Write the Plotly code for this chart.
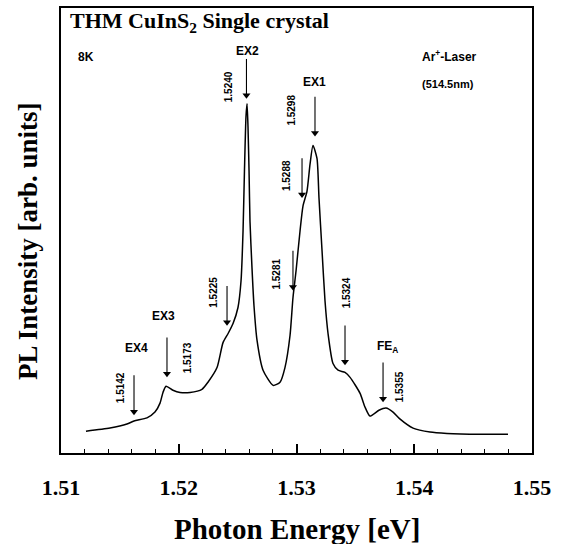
import plotly.graph_objects as go

# ---- data ----
energy_eV = [1.51212, 1.51416, 1.51560, 1.51620, 1.51730, 1.51798, 1.51841, 1.51866,
             1.51892, 1.51951, 1.52011, 1.52096, 1.52197, 1.52248, 1.52325, 1.52376,
             1.52418, 1.52461, 1.52503, 1.52529, 1.52546, 1.52558, 1.52571, 1.52580,
             1.52588, 1.52597, 1.52605, 1.52622, 1.52639, 1.52665, 1.52716, 1.52801,
             1.52860, 1.52902, 1.52945, 1.52970, 1.52996, 1.53030, 1.53055, 1.53089,
             1.53115, 1.53140, 1.53174, 1.53191, 1.53217, 1.53242, 1.53268, 1.53310,
             1.53353, 1.53412, 1.53455, 1.53540, 1.53582, 1.53624, 1.53700, 1.53760,
             1.53820, 1.53880, 1.53990, 1.54134, 1.54278, 1.54559, 1.54796]
pl_intensity = [4.9, 5.6, 6.5, 7.2, 7.9, 9.2, 11.2, 13.6,
                15.0, 14.1, 13.6, 13.6, 14.3, 15.9, 19.2, 24.8,
                26.8, 29.1, 32.7, 38.7, 49.9, 63.3, 75.6, 78.5,
                73.4, 63.3, 52.1, 41.6, 33.1, 25.3, 18.6, 15.2,
                15.9, 19.2, 26.4, 34.9, 40.9, 49.9, 55.5, 58.8,
                64.9, 69.1, 66.2, 57.3, 45.4, 34.2, 26.8, 20.1,
                18.6, 18.1, 17.0, 13.4, 10.3, 8.3, 9.6, 10.1,
                9.2, 7.6, 5.6, 4.7, 4.4, 4.2, 4.2]

# marked features: arrow position (eV), intensity at arrow tip, name, energy label
feature_eV = [1.51620, 1.51900, 1.52410, 1.52575, 1.52970, 1.53047, 1.53157, 1.53412, 1.53735]
feature_tip = [8.5, 17.0, 28.6, 79.6, 36.5, 57.3, 71.1, 19.7, 11.4]
feature_name = ["EX4", "EX3", "", "EX2", "", "", "EX1", "", "FE<sub>A</sub>"]
feature_label = ["1.5142", "1.5173", "1.5225", "1.5240", "1.5281", "1.5288", "1.5298", "1.5324", "1.5355"]

x_tick_vals = [1.51, 1.52, 1.53, 1.54, 1.55]
x_tick_text = ["1.51", "1.52", "1.53", "1.54", "1.55"]

# ---- layout helpers ----
Y_MAX = 100.0
PLOT_H_PX = 447.0
px = Y_MAX / PLOT_H_PX            # intensity units per pixel
ARROW_LEN = 40 * px
HEAD_OFF = 3.5 * px
name_shift = [(2, 67), (-3, 61), None, (1, 48), None, None, (0, 55), None, (4, 55)]
num_shift = [(-14, 27), (20, 20), (-13, 33), (-18, 12), (-16, 17), (-16, 22), (-23, 27), (1, 72), (16, 15)]

fig = go.Figure()
fig.add_trace(go.Scatter(x=energy_eV, y=pl_intensity, mode="lines",
                         line=dict(color="black", width=1.5, shape="spline", smoothing=0.6),
                         hoverinfo="skip", showlegend=False))

# arrow shafts
sx, sy = [], []
for e, t in zip(feature_eV, feature_tip):
    sx += [e, e, None]
    sy += [t + HEAD_OFF, t + ARROW_LEN, None]
fig.add_trace(go.Scatter(x=sx, y=sy, mode="lines", line=dict(color="black", width=1.1),
                         hoverinfo="skip", showlegend=False))
# arrow heads
fig.add_trace(go.Scatter(x=feature_eV, y=[t + HEAD_OFF for t in feature_tip], mode="markers",
                         marker=dict(symbol="triangle-down", size=7, color="black", line=dict(width=0)),
                         hoverinfo="skip", showlegend=False))

sans = "Liberation Sans"
serif = "Liberation Serif"
ann = []
for i, (e, t) in enumerate(zip(feature_eV, feature_tip)):
    if feature_name[i]:
        dx, dy = name_shift[i]
        ann.append(dict(x=e, y=t, xref="x", yref="y", text=feature_name[i], showarrow=False,
                        xshift=dx, yshift=dy,
                        font=dict(family=sans, size=12, color="black", weight="bold")))
    dx, dy = num_shift[i]
    ann.append(dict(x=e, y=t, xref="x", yref="y", text=feature_label[i], showarrow=False,
                    textangle=-90, xshift=dx, yshift=dy,
                    font=dict(family=sans, size=10, color="black", weight="bold")))

ann += [
    dict(x=0.015, y=0.968, xref="paper", yref="paper", xanchor="left", yanchor="middle",
         text="<b>THM CuInS<sub>2</sub> Single crystal</b>", showarrow=False,
         font=dict(family=serif, size=22, color="black")),
    dict(x=0.032, y=0.890, xref="paper", yref="paper", xanchor="left", yanchor="middle",
         text="8K", showarrow=False, font=dict(family=sans, size=12, color="black", weight="bold")),
    dict(x=0.762, y=0.893, xref="paper", yref="paper", xanchor="left", yanchor="middle",
         text="Ar<sup>+</sup>-Laser", showarrow=False,
         font=dict(family=sans, size=12, color="black", weight="bold")),
    dict(x=0.762, y=0.830, xref="paper", yref="paper", xanchor="left", yanchor="middle",
         text="(514.5nm)", showarrow=False,
         font=dict(family=sans, size=11, color="black", weight="bold")),
    dict(x=-0.070, y=0.4765, xref="paper", yref="paper", xanchor="center", yanchor="middle",
         text="<b>PL Intensity [arb. units]</b>", textangle=-90, showarrow=False,
         font=dict(family=serif, size=27, color="black")),
    dict(x=0.501, y=-0.170, xref="paper", yref="paper", xanchor="center", yanchor="middle",
         text="<b>Photon Energy [eV]</b>", showarrow=False,
         font=dict(family=serif, size=29, color="black")),
]

fig.update_layout(
    width=568, height=544,
    margin=dict(l=61, r=36, t=6, b=91, pad=0),
    paper_bgcolor="white", plot_bgcolor="white",
    annotations=ann,
    xaxis=dict(range=[1.51, 1.55], showgrid=False, zeroline=False,
               showline=True, linecolor="black", linewidth=2, mirror=True,
               tickmode="array", tickvals=x_tick_vals, ticktext=x_tick_text,
               ticks="inside", ticklen=9, tickwidth=1.5, tickcolor="black",
               minor=dict(dtick=0.002, ticks="inside", ticklen=4, tickwidth=1.2, tickcolor="black", showgrid=False),
               ticklabelstandoff=14,
               tickfont=dict(family=serif, size=22, color="black", weight="bold")),
    yaxis=dict(range=[0, Y_MAX], showgrid=False, zeroline=False,
               showline=True, linecolor="black", linewidth=2, mirror=True,
               showticklabels=False, ticks=""),
)

fig.write_html("out.html")
